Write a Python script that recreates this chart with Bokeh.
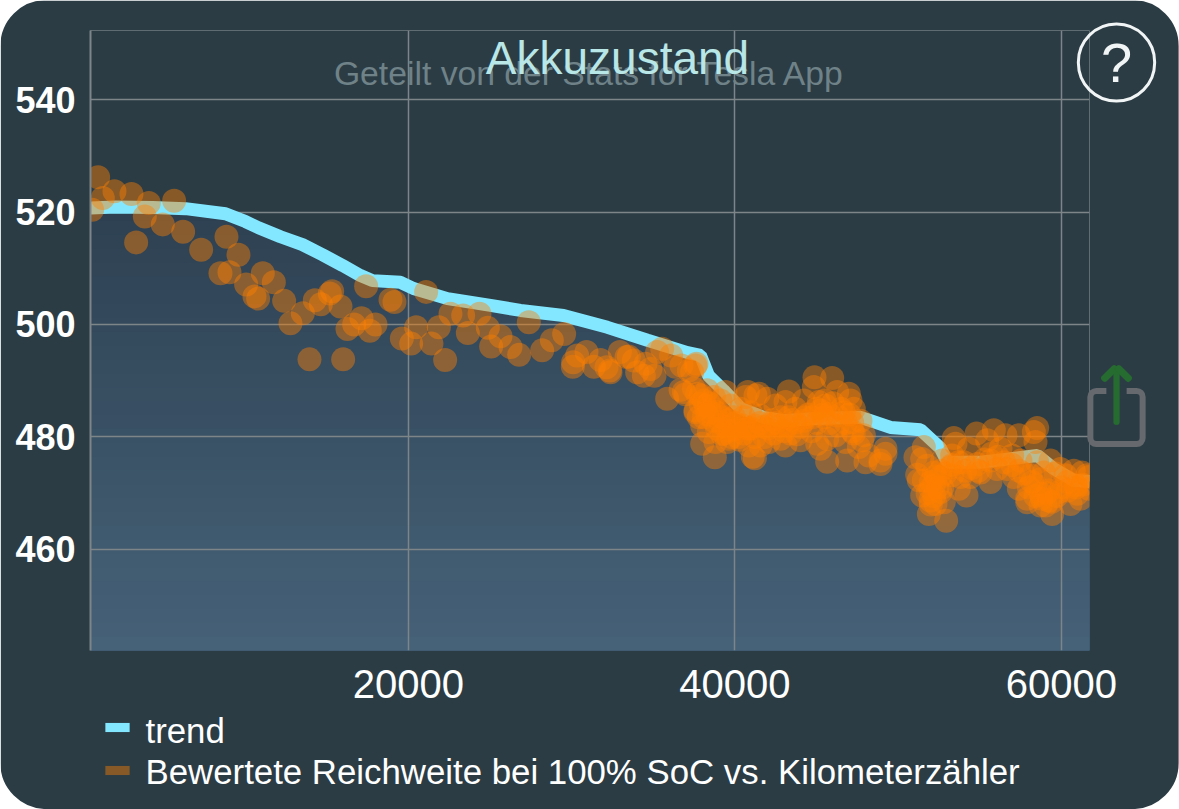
from bokeh.plotting import figure
from bokeh.embed import file_html
from bokeh.resources import INLINE
from bokeh.models import (Label, FixedTicker, Range1d, BasicTickFormatter)
import numpy as np
from math import pi

chart_title = "Akkuzustand"
watermark = "Geteilt von der Stats for Tesla App"
trend_name = "trend"
scatter_name = "Bewertete Reichweite bei 100% SoC vs. Kilometerzähler"
x_ticks = [20000, 40000, 60000]
y_ticks = [460, 480, 500, 520, 540]

trend_km = [521, 2050, 4317, 6339, 8789, 10015, 10811, 12159, 13506, 14732, 15957, 17060, 17795, 19510, 20306, 22389,
            25023, 26861, 29495, 32191, 34641, 37092, 37888, 38378, 39297, 40339, 41747,
            42973, 44811, 47690, 48303, 49528, 51366, 52591, 53020, 55041, 57062, 58533,
            59513, 60738, 61718]
trend_range = [520.7, 520.9, 520.8, 520.6, 519.7, 518.3, 517.2, 515.6, 514.2, 512.4, 510.5, 508.7, 507.8, 507.5, 506.4, 504.6,
               503.4, 502.5, 501.6, 499.5, 497.2, 495.0, 494.5, 490.9, 488.3, 485.1, 483.5,
               482.9, 483.3, 483.5, 482.9, 481.7, 481.3, 478.0, 475.5, 475.5, 476.2, 476.7,
               474.4, 472.3, 472.1]

scatter_km = [
    989, 1990, 1275, 3031, 621, 4093, 5645, 3848, 4950, 3317, 6196, 8851, 7299, 9586, 8483, 9034,
    10055, 11076, 11750, 10566, 10791, 12383, 13527, 12771, 14262, 14630, 15324, 15181, 15834,
    17407, 18898, 16264, 16672, 17121, 17632, 17978, 13935, 15998,
    19143, 21083, 20470, 21859, 19592, 20164, 21409, 22247, 22573, 23349, 24350, 23635, 24860,
    25636, 25064, 26249, 26780, 27372, 28189, 28781, 29536, 30333, 30904, 30088, 30067, 31354,
    31762, 32334, 32130, 32375, 32947, 33498, 33355, 33804, 34008, 34417, 34519, 35071, 34825,
    35540, 36091, 36357, 35234, 35846, 36663, 36969, 37582, 37378, 37684, 37582, 37888,
    36724, 37174, 37643, 36867, 37786, 37990, 38766, 41217, 41094, 40788, 41462, 41257, 43300,
    44872, 45954, 44831, 46260, 46975, 47077, 47281, 44218, 45648, 45240, 46873, 47996, 48915,
    49221, 48200, 47792, 37480, 37888, 38195, 38501, 38092, 38705, 39113, 39420, 39726, 40032,
    39318, 39624, 40237, 40543, 40849, 41257, 41768, 42176, 42789, 43197, 43708, 44218, 44729,
    45240, 45546, 45750, 45443, 46260, 46669, 45137, 40339, 40951, 39726, 39113, 38705, 38297,
    39420, 40645, 41972, 42483, 43095, 43708, 38807, 39522, 40849, 41564, 42074, 42789, 43095,
    44014, 43402, 42381, 45035, 45648, 46158, 46771, 47281, 47179, 47690, 47894, 47588, 41564,
    40543, 39930, 39011, 37990, 37582, 38399, 38092,
    49221, 48915, 53407, 53510, 54796, 55858, 56573, 57389, 58512, 58308, 58410, 55449, 54326,
    51570, 51059, 51468, 51161, 51263, 51468, 51876, 52938, 54183, 52284, 51978, 51774, 52182,
    52591, 52795, 53714, 53305, 52693, 53305, 54020, 54837, 55654, 56266, 56981, 57491, 56675,
    56062, 55041, 54428, 53816, 55654, 57083, 57696, 57389, 57900, 57900, 59023, 59431, 58717,
    59227, 59840, 60554, 61167, 60963, 58512, 59329, 59942, 60759, 61269, 61677, 61677, 60350,
    60861, 61575, 58410, 58104, 58921, 59635, 60248, 59227, 58717, 52182, 53203, 51570, 51978,
    52591,
    38400, 38800, 39200, 39600, 40000, 40500, 41000, 41500, 42000, 42500, 43000, 43500, 44000,
    44500, 45000, 45400, 45800, 46300, 46800, 47200, 38300, 38900, 39200, 39800, 40300, 40700,
    41200, 41800, 42300, 42800, 43300, 43800, 44300, 44700, 45000, 45500, 46000, 46500, 47000,
    51800, 52000, 52200, 52400, 52600, 52900, 53300, 53700, 54100, 54500, 54900, 55300, 55700,
    56100, 56500, 57000, 57400, 52000, 52300, 52700, 58000, 58400, 58800, 59100, 59400, 59700,
    60000, 60400, 60900, 61300, 58200, 58700]
scatter_range = [
    526.2, 523.7, 522.5, 523.2, 520.4, 521.6, 522.0, 519.2, 517.8, 514.6, 516.5, 515.6, 513.3, 512.4, 509.1, 509.3,
    507.1, 509.1, 507.5, 505.0, 504.6, 504.2, 502.0, 500.2, 504.3, 503.6, 505.9, 505.5, 503.2,
    506.8, 504.4, 499.2, 500.0, 501.1, 498.9, 500.0, 493.8, 493.8,
    504.0, 505.8, 499.5, 499.5, 497.5, 496.6, 496.6, 493.7, 501.9, 501.6, 501.9, 498.5, 499.4,
    497.9, 496.1, 496.0, 494.6, 500.4, 495.4, 497.2, 498.3, 494.5, 495.1, 493.3, 492.5, 492.5,
    493.7, 491.8, 492.4, 491.5, 495.1, 494.3, 494.2, 493.6, 491.5, 490.9, 493.0, 490.9, 492.1,
    495.7, 494.5, 492.5, 495.1, 486.8, 488.4, 487.6, 492.7, 491.5, 487.7, 484.7, 485.9,
    492.7, 491.8, 493.0, 488.0, 483.5, 478.8, 476.4, 476.2, 476.5, 488.0, 487.7, 487.4, 488.1,
    490.6, 490.5, 488.9, 488.0, 487.7, 486.5, 485.0, 486.5, 475.6, 477.9, 475.8, 475.5, 475.8,
    477.0, 476.7, 479.4, 488.6, 487.4, 485.6, 484.4, 483.5, 482.9, 482.6, 481.8, 481.2, 481.5,
    480.6, 479.7, 480.0, 480.6, 481.5, 482.0, 481.8, 482.3, 482.0, 482.0, 482.6, 482.9, 483.5,
    484.7, 485.6, 484.1, 483.5, 483.8, 484.4, 486.2, 485.0, 484.4, 485.6, 486.5, 487.1, 488.3,
    488.0, 487.1, 486.8, 485.6, 486.2, 485.0, 479.1, 479.1, 478.5, 478.5, 479.1, 479.7, 478.5,
    479.4, 480.6, 480.6, 478.8, 479.7, 480.3, 479.1, 480.6, 482.6, 482.9, 480.3, 478.2, 483.8,
    483.5, 483.5, 484.1, 482.0, 484.4, 480.9, 486.5,
    477.9, 475.2, 479.8, 478.8, 480.6, 481.2, 480.3, 480.3, 481.6, 480.9, 479.1, 479.4, 477.9,
    478.2, 476.4, 476.1, 473.3, 472.3, 469.6, 466.3, 465.1, 469.6, 468.1, 470.8, 474.9, 471.4,
    470.2, 468.4, 470.8, 473.2, 475.8, 476.7, 475.5, 475.2, 475.8, 477.9, 476.7, 475.8, 474.3,
    474.3, 473.7, 472.9, 472.9, 472.0, 472.9, 473.5, 470.8, 468.4, 469.0, 467.8, 466.3, 469.9,
    470.5, 470.2, 468.1, 469.0, 469.9, 475.5, 475.8, 474.3, 474.0, 473.7, 472.9, 470.8, 472.0,
    471.4, 473.2, 471.4, 473.2, 473.7, 473.5, 473.2, 468.7, 467.8, 473.7, 474.6, 472.3, 468.7,
    472.9,
    486, 484.5, 483.5, 483, 482.5, 482, 481.5, 482.5, 481.5, 482.5, 481, 483, 481.8,
    484, 485, 484, 482.5, 482, 482.5, 481, 484, 481.5, 480.5, 480, 479.5, 481.5,
    480, 480, 483, 483.5, 483.5, 480.5, 483.5, 481, 482.5, 486.5, 486, 485, 484,
    470, 472, 469.5, 471, 474, 473.5, 475, 475.5, 474, 474.5, 474, 476, 477,
    476.5, 475.5, 475, 474, 468, 473, 471, 471, 469.5, 469, 470, 468.5, 469.5,
    471, 470.5, 471, 471.5, 472, 472.5]

FONT = "Liberation Sans"
PANEL = "#2b3c45"
GRID = "#7d8589"
CYAN = "#83e8ff"
ORANGE = "#ff8000"
W, H = 1179, 809

p = figure(width=W, height=H, output_backend="svg", toolbar_location=None,
           x_range=Range1d(521, 61718), y_range=Range1d(442.04, 552.27),
           min_border_left=90, min_border_right=90, min_border_top=30, min_border_bottom=159,
           frame_width=999, frame_height=620,
           background_fill_color=PANEL, border_fill_color=PANEL, outline_line_color=None)

# gradient area below the trend, painted top to bottom in opaque bands
tx = np.array(trend_km, float)
ty = np.array(trend_range, float)
edges = np.linspace(520.9, 442.04, 33)
c0 = np.array([46, 65, 82])
c1 = np.array([70, 98, 120])
for i, e in enumerate(edges[:-1]):
    c = c0 + (c1 - c0) * i / (len(edges) - 2)
    p.varea(x=tx, y1=442.04, y2=np.minimum(ty, e), fill_color="#%02x%02x%02x" % tuple(int(v) for v in c),
            level="underlay")

p.line(tx, ty, line_color=CYAN, line_width=13, line_join="bevel", line_cap="butt")
p.scatter(scatter_km, scatter_range, size=24, fill_color=ORANGE, fill_alpha=0.43, line_color=None)

# axes and grid
p.xaxis.ticker = FixedTicker(ticks=x_ticks)
p.yaxis.ticker = FixedTicker(ticks=y_ticks)
p.xaxis.formatter = BasicTickFormatter(use_scientific=False)
p.xgrid.ticker = FixedTicker(ticks=x_ticks)
p.ygrid.ticker = FixedTicker(ticks=y_ticks)
for g in (p.xgrid, p.ygrid):
    g.grid_line_color = GRID
    g.grid_line_width = 1.5
    g.level = "underlay"
for a in (p.xaxis, p.yaxis):
    a.major_tick_line_color = None
    a.minor_tick_line_color = None
    a.major_tick_out = 0
    a.major_tick_in = 0
    a.major_label_text_color = "#ffffff"
    a.major_label_text_font = FONT
p.xaxis.axis_line_color = None
p.yaxis.axis_line_color = GRID
p.yaxis.axis_line_width = 2
p.xaxis.major_label_text_font_size = "40px"
p.yaxis.major_label_text_font_size = "36px"
p.yaxis.major_label_text_font_style = "bold"
p.yaxis.major_label_standoff = 15
p.xaxis.major_label_standoff = 19


def box_label(x, y, panel="right", **kw):
    """An empty-text Label used as a drawn box; side panels are not clipped to the frame."""
    p.add_layout(Label(x=x, y=y, x_units="canvas", y_units="canvas", text=" ", text_font_size="1px",
                       text_align="center", text_baseline="middle", **kw), panel)


def text_label(x, y, text, size, color, panel="right", align="left"):
    p.add_layout(Label(x=x, y=y, x_units="canvas", y_units="canvas", text=text, text_align=align,
                       text_baseline="middle", text_font=FONT, text_font_size=size, text_color=color), panel)


# rounded window corners: a thick white ring just outside the canvas edge
R = 46
ring = 70
box_label(W // 2, H // 2, padding=dict(x=W // 2 + ring // 2, y=H // 2 + ring // 2),
          border_line_color="#ffffff", border_line_width=ring, border_radius=R + ring // 2,
          background_fill_alpha=0)

# legend, placed by hand below the x axis
box_label(117, 727, padding=dict(x=12, y=4), background_fill_color=CYAN)
text_label(145, 730, trend_name, "34.8px", "#ffffff")
box_label(117, 770, padding=dict(x=12, y=4), background_fill_color=ORANGE, background_fill_alpha=0.43)
text_label(145, 771, scatter_name, "34.8px", "#ffffff")

# titles
p.add_layout(Label(x=589, y=72, x_units="canvas", y_units="canvas", text=watermark, text_align="center",
                   text_baseline="middle", text_font=FONT, text_font_size="33.7px", text_color="#6f8288"))
p.add_layout(Label(x=617, y=57, x_units="canvas", y_units="canvas", text=chart_title, text_align="center",
                   text_baseline="middle", text_font=FONT, text_font_size="46px", text_color="#b9e6e6"))

# help button
cx, cy, r = 1116, 62, 38
text_label(cx, cy, "?", "56px", "#f2f5f5", align="center")
box_label(cx, cy, padding=r, border_line_color="#f2f5f5", border_line_width=3, border_radius=r,
          background_fill_alpha=0)

# share button
sx, sy = 1116, 417
GREEN = "#266b2f"
box_label(sx, sy, padding=26, border_line_color="#666a6e", border_line_width=6, border_radius=6,
          background_fill_alpha=0)
box_label(sx, sy - 25, padding=dict(x=10, y=6), background_fill_color=PANEL)
box_label(sx, 395, padding=dict(x=3, y=29), background_fill_color=GREEN, border_radius=3)
box_label(1109, 373, padding=dict(x=10, y=3), background_fill_color=GREEN, border_radius=3, angle=pi / 4)
box_label(1123, 373, padding=dict(x=10, y=3), background_fill_color=GREEN, border_radius=3, angle=-pi / 4)

open("out.html", "w").write(file_html(p, INLINE))
